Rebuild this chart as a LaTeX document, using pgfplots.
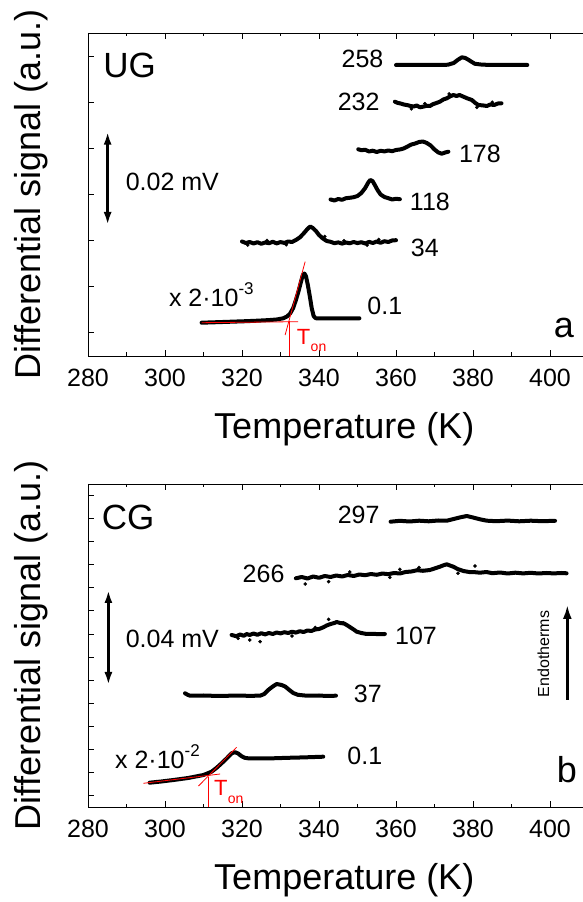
\documentclass[border=0pt]{standalone}
\usepackage{fontspec}
\setmainfont{Liberation Sans}
\usepackage{pgfplots}
\pgfplotsset{compat=1.18}
\usetikzlibrary{arrows.meta}
\newcommand{\fs}[1]{\fontsize{#1}{#1}\selectfont}
\tikzset{
  lab/.style={font=\fs{25}, inner sep=0pt},
  dbl/.style={line width=2.6pt, {Latex[length=13pt,width=8pt]}-{Latex[length=13pt,width=8pt]}},
}
\pgfplotsset{
  panel/.style={
    scale only axis, width=500.5pt, height=323pt,
    xmin=280, xmax=410, ymin=0, ymax=323,
    xtick={280,300,...,400}, minor xtick={290,310,...,410},
    tick align=inside, xtick pos=both, ytick pos=left,
    major tick length=6pt, minor tick length=3.5pt,
    yticklabels={},
    axis line style={line width=0.8pt},
    every tick/.style={black, line width=0.8pt},
    /pgf/number format/assume math mode=true,
    xticklabel style={font=\fs{25}, inner sep=0pt, yshift=-13pt},
    xlabel={Temperature (K)},
    ylabel={Differential signal (a.u.)},
    xlabel style={font=\fs{36}, at={(axis description cs:0.512,-0.2539)}, anchor=base, inner sep=0pt},
    ylabel style={font=\fs{36}, at={(axis description cs:-0.0959,0.5)}, anchor=base, inner sep=0pt},
    clip=false,
  },
  curve/.style={black, line width=4pt, line join=round, line cap=round},
  redl/.style={red, line width=0.8pt},
  dots/.style={only marks, mark=*, mark size=1.6pt, black},
}
\begin{document}
\begin{tikzpicture}
% ---------------- top panel (a) ----------------
\begin{axis}[panel, at={(88pt,546pt)}, anchor=south west,
  ytick={23.1,69.2,115.4,161.5,207.6,253.8,299.9}]
\addplot[curve] coordinates {(309.5,33.3)(312,33.6)(315,34.0)(318,34.4)(321,34.8)(324,35.3)(327,35.9)(329,36.5)(330.7,37.7)(331.7,39.5)(332.5,42.5)(333.3,48)(334,56)(334.7,65)(335.3,74)(335.8,81)(336.2,82.5)(336.6,80)(337.1,71)(337.6,60)(338.1,48)(338.6,40)(339.1,37.8)(340,37.5)(343,37.7)(346,37.7)(350.5,37.7)};
\addplot[curve] coordinates {(320,114.5)(321,113)(322,114)(323,112.5)(324,113.8)(325,112.2)(326,113.5)(327,112.8)(328,114.2)(329,112.6)(330,113.9)(331,113.1)(332,114.5)(333,114)(334,116)(335,118.5)(336,122.5)(337,127)(337.7,129.5)(338.4,128)(339.2,125)(340,121)(341,117.5)(342,115)(343,114.2)(344,112.8)(345,113.6)(346,112.4)(347,113.5)(348,112.7)(349,114)(350,112.9)(351,113.8)(352,112.5)(353,114.1)(354,113)(355,114.5)(356,113.2)(357,114.8)(358,114)(359,115.5)(360,115.8)};
\addplot[dots] coordinates {(321.5,111)(326.5,115.5)(331.5,111.2)(346.5,115.3)(352.5,110.8)(355.5,116.5)(341.5,119.5)};
\addplot[curve] coordinates {(343,156.5)(344,155.5)(345,157)(346,156.2)(347,157.8)(348,158.2)(349,158.8)(350,160)(351,163)(352,168)(352.8,173.5)(353.3,176)(353.9,175)(354.5,171)(355.2,166)(356,161.5)(357,159)(358,157.8)(359,156.5)(360,157.2)(361,156.8)};
\addplot[curve] coordinates {(350.2,206.7)(351,205.8)(352,206.2)(353,204.5)(354,205.3)(355,204)(356,205.2)(357,204.6)(358,205.5)(359,204.8)(360,206)(361,206.5)(362,207.5)(363,209.5)(364,211.5)(365,212.5)(366,214)(367,214.5)(368,213)(369,210.5)(370,206.5)(371,203.5)(371.9,202.3)(372.8,203.5)(373.6,204.3)};
\addplot[curve] coordinates {(359.7,254.3)(360.5,253)(361.2,252.5)(362,251.5)(363,250.8)(363.8,250)(364.6,249.5)(365.4,250.5)(366.2,248.7)(367,249.3)(368,250.2)(368.8,250)(369.6,251.8)(370.5,253)(371.4,254.3)(372.3,256.5)(373.2,257.7)(374,259.5)(374.9,261)(375.7,260)(376.5,261)(377.5,259.3)(378.6,257.5)(379.7,256)(380.6,253)(381.4,251)(382.5,250.6)(383.6,250)(384.5,251.5)(385.5,251)(386.5,252.5)(387.4,252.7)};
\addplot[dots] coordinates {(364,247.2)(367.5,252.3)(373.8,262)(381,248.6)(385,253.8)};
\addplot[curve] coordinates {(360,291)(363,291)(366,291.2)(369,291)(372,291)(373.5,291.3)(375,293)(376,296)(377.1,298.7)(378,298)(378.9,296)(379.7,294)(380.5,292.2)(382,291.5)(384.4,291)(388,291)(391,291)(394.1,291)};
% red construction lines
\addplot[redl] coordinates {(309.5,33.3)(334.6,34.3)};
\addplot[redl] coordinates {(331.2,21)(336.4,94.3)};
\addplot[redl] coordinates {(332.2,0)(332.2,35)};
\node[anchor=base west, inner sep=0pt, text=red, font=\fs{22}] at (axis cs:334.2,11) {T};
\node[anchor=base west, inner sep=0pt, text=red, font=\fs{14}] at (axis cs:337.8,4) {on};
% labels
\node[lab] at (axis cs:351.3,297) {258};
\node[lab] at (axis cs:350.3,254) {232};
\node[lab] at (axis cs:381.8,202) {178};
\node[lab] at (axis cs:368.8,154) {118};
\node[lab] at (axis cs:367.5,108) {34};
\node[lab] at (axis cs:357.1,50) {0.1};
\node[inner sep=0pt, font=\fs{35}] at (axis cs:290.8,290.2) {UG};
\node[anchor=base, inner sep=0pt, font=\fs{36}] at (axis cs:403.6,18) {a};
\node[lab] at (axis cs:301.9,174.5) {0.02 mV};
\node[anchor=base west, inner sep=0pt, font=\fs{25}] at (axis cs:301,49.3) {x 2·10\raisebox{12pt}{\fs{17}-3}};
\draw[dbl] (axis cs:285.1,131) -- (axis cs:285.1,224.3);
\end{axis}
% ---------------- bottom panel (b) ----------------
\begin{axis}[panel, at={(88pt,95pt)}, anchor=south west,
  ytick={11.5,34.6,57.7,80.7,103.8,126.9,150,173,196.1,219.1,242.2,265.3,288.4,311.4}]
\addplot[curve] coordinates {(296,24.3)(299,25.5)(302.2,27)(306,29)(310,32)(312.1,35.3)(313.5,39.5)(314.7,43.7)(316,48.5)(317.3,53.7)(318.2,54.8)(319,53.5)(319.8,51)(320.7,49.2)(321.6,48.7)(324,48.5)(328,48.7)(332,49.2)(336,49.6)(341.1,50.3)};
\addplot[curve] coordinates {(305.2,113.7)(306,112)(306.5,111.3)(310,111.5)(314,111.0)(318,111.4)(322,111.2)(324.7,111.3)(325.8,113)(326.8,117)(328,120.5)(329,123)(330.3,122)(331.2,120.5)(332.3,117)(333.3,114)(334.5,112.2)(336.8,111.3)(340,111.5)(342,111)(344.4,111.3)};
\addplot[curve] coordinates {(317.3,172)(318.5,170.8)(319.5,172.5)(320.5,171.2)(321.2,173)(322,172)(323,173.5)(324,172.2)(325,173.8)(326,172.6)(327,174)(328,173)(329,174.5)(330,173.6)(331,174.8)(332,174)(333,175.3)(334,174.4)(335,175.8)(336,175)(337,176.5)(338,176)(339,177.5)(340,178)(341,179.5)(342,181.5)(343,183)(344,184)(344.6,185)(345.5,184)(346.5,183.5)(347.2,182)(348,180)(349,177.5)(349.8,175.3)(351,174)(352.4,173)(354,173.2)(355.5,172.8)(357.1,173)};
\addplot[dots] coordinates {(324.7,165.3)(322,167)(342.5,187.7)(346.3,184.3)(319,168.7)(333,171)(339,179.5)};
\addplot[curve] coordinates {(334,228.7)(335.5,230)(337,228.5)(338.5,230.5)(340,229.2)(341.5,231)(343,230)(344.5,231.5)(346,230.5)(347.5,232)(349,231)(350.5,232.5)(352,231.8)(353.5,233)(355,232.2)(356.5,233.5)(358,232.8)(359.5,234)(361,233.5)(362.5,235)(364,235.5)(365.5,236.8)(367,236.2)(368.8,237)(370,238.5)(371.4,240.3)(372.4,241.8)(373.2,242.7)(374,241.5)(374.9,240.3)(376,238)(377.5,236)(379,235)(380.5,234.8)(381.8,234.3)(383.5,235)(385,233.8)(387,234.5)(389,233.5)(391,234.3)(393,233.6)(395,234.2)(397,233.5)(399,234)(401,233.6)(403,234)(404.3,233.7)};
\addplot[dots] coordinates {(336.4,223)(342.5,225.3)(358.4,229.7)(380.5,241)(376.1,233.7)(361,237.7)(348,235)(366,239.5)};
\addplot[curve] coordinates {(358.6,285.3)(361,286.2)(363.5,285.5)(366,286.3)(368.5,285.7)(371,286.5)(373.2,286.3)(375,288)(376.5,289.5)(378.4,291)(380,289.5)(381.8,287.7)(383.6,286.3)(386,285.8)(389,286.4)(392,285.7)(395,286.3)(398,285.8)(401.3,286.2)};
% red construction lines
\addplot[redl] coordinates {(294.4,23.7)(314.3,33)};
\addplot[redl] coordinates {(308.7,21)(318.6,59.7)};
\addplot[redl] coordinates {(311.3,0)(311.3,30.3)};
\node[anchor=base west, inner sep=0pt, text=red, font=\fs{22}] at (axis cs:312.7,11) {T};
\node[anchor=base west, inner sep=0pt, text=red, font=\fs{14}] at (axis cs:316.3,3.7) {on};
% labels
\node[lab] at (axis cs:350.3,292) {297};
\node[lab] at (axis cs:325.6,233) {266};
\node[lab] at (axis cs:365.2,171) {107};
\node[lab] at (axis cs:352.7,113) {37};
\node[lab] at (axis cs:351.9,51) {0.1};
\node[inner sep=0pt, font=\fs{35}] at (axis cs:290.4,290) {CG};
\node[anchor=base, inner sep=0pt, font=\fs{36}] at (axis cs:404.4,24) {b};
\node[lab] at (axis cs:301.9,168) {0.04 mV};
\node[anchor=base west, inner sep=0pt, font=\fs{25}] at (axis cs:287,38.7) {x 2·10\raisebox{12pt}{\fs{17}-2}};
\node[rotate=90, inner sep=0pt, font=\fs{16}] at (axis cs:398.3,153) {Endotherms};
\draw[dbl] (axis cs:285.3,122) -- (axis cs:285.3,217);
\draw[line width=2.6pt, -{Latex[length=14pt,width=9pt]}] (axis cs:404.5,107) -- (axis cs:404.5,202);
\end{axis}
\pgfresetboundingbox
\useasboundingbox (0,0) rectangle (583pt,902pt);
\end{tikzpicture}
\end{document}
